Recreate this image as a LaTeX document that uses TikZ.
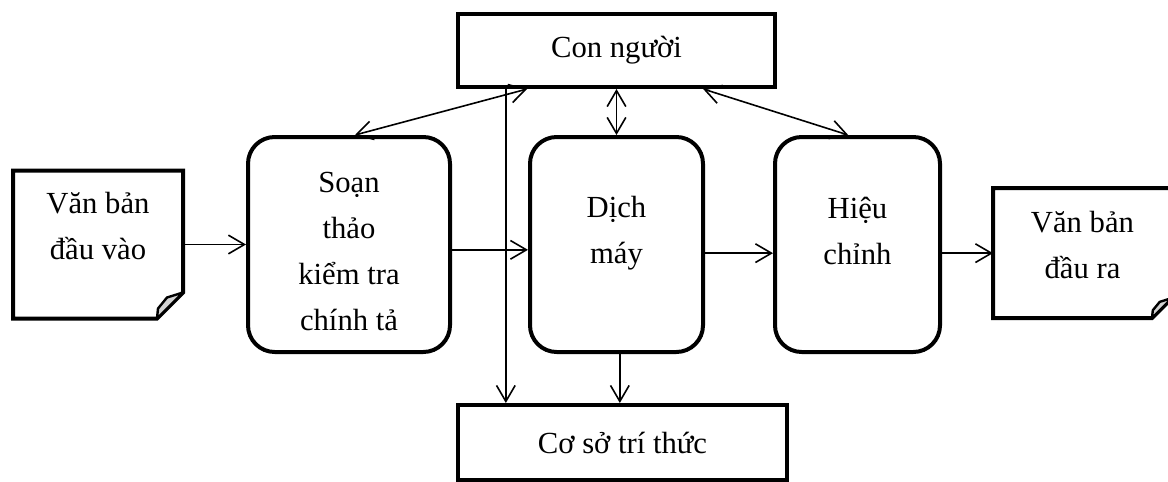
\documentclass[tikz,border=0pt]{standalone}
\usepackage{fontspec}
\setmainfont{Liberation Serif}
\usepackage{tikz}
\usetikzlibrary{positioning, arrows.meta}

\begin{document}
\begin{tikzpicture}[x=0.75pt, y=-0.75pt,
  every node/.style={font=\fontsize{23}{34.5}\selectfont, align=center},
  stage/.style={draw, line width=3pt, rounded corners=20pt, inner sep=0pt},
  store/.style={draw, line width=3pt, inner sep=0pt},
  docbox/.style={inner sep=0pt, outer sep=0pt},
  docline/.style={line width=3pt, line join=miter},
  flapline/.style={line width=1.8pt, line join=round, fill=gray!35},
  flow/.style={line width=1.2pt, -{Straight Barb[length=12pt, width=14pt]}},
  both/.style={line width=1.2pt, {Straight Barb[length=12pt, width=14pt]}-{Straight Barb[length=12pt, width=14pt]}}]

\useasboundingbox (0,0) rectangle (1168,482);

% --- Documents (input / output) ---
\node[docbox, minimum width=127.5pt, minimum height=111pt,
      label={[yshift=13.5pt]center:Văn bản\\đầu vào}] (indoc) at (98,244.5) {};
\node[docbox, minimum width=134.25pt, minimum height=97.5pt,
      label={[yshift=6pt]center:Văn bản\\đầu ra}] (outdoc) at (1082.5,253) {};

% outline with folded corner
\draw[docline] (indoc.north west) -- (indoc.north east) -- ([yshift=19.5pt]indoc.south east)
  -- ([xshift=-19.5pt]indoc.south east) -- (indoc.south west) -- cycle;
\draw[flapline] ([yshift=19.5pt]indoc.south east) -- ([shift={(-12pt,15.75pt)}]indoc.south east)
  -- ([shift={(-18.75pt,7.5pt)}]indoc.south east) -- ([xshift=-19.5pt]indoc.south east) -- cycle;
\draw[docline] (outdoc.north west) -- (outdoc.north east) -- ([yshift=15pt]outdoc.south east)
  -- ([xshift=-15pt]outdoc.south east) -- (outdoc.south west) -- cycle;
\draw[flapline] ([yshift=15pt]outdoc.south east) -- ([shift={(-9.2pt,12.1pt)}]outdoc.south east)
  -- ([shift={(-14.4pt,5.8pt)}]outdoc.south east) -- ([xshift=-15pt]outdoc.south east) -- cycle;

% --- Processing stages ---
\node[stage, minimum width=151.5pt, minimum height=161.25pt,
      label={[yshift=-5pt]center:Soạn\\thảo\\kiểm tra\\chính tả}] (soan) at (349,244.5) {};
\node[stage, minimum width=129.75pt, minimum height=161.25pt,
      label={[yshift=8.6pt]center:Dịch\\máy}] (dich) at (616.5,244.5) {};
\node[stage, minimum width=123.75pt, minimum height=161.25pt,
      label={[yshift=10.5pt]center:Hiệu\\chỉnh}] (hieu) at (857.5,244.5) {};

% --- People and knowledge base ---
\node[store, minimum width=237.75pt, minimum height=54.75pt] (conng) at (616.5,50.5) {Con người};
\node[store, minimum width=246.75pt, minimum height=56.25pt] (coso) at (622.5,442.5) {Cơ sở trí thức};

% --- Main flow ---
\draw[flow] (indoc) -- (soan);
\draw[flow] ([yshift=-4pt]soan.east) -- ([yshift=-4pt]dich.west);
\draw[flow] ([yshift=-6.5pt]dich.east) -- ([yshift=-6.5pt]hieu.west);
\draw[flow] ([yshift=-6.5pt]hieu.east) -- ([yshift=-6.5pt]hieu.east -| outdoc.west);

% --- Links with Con người ---
\draw[both] ([xshift=4.5pt]soan.north) -- ([xshift=-67pt]conng.south);
\draw[both] (conng) -- (dich);
\draw[both] ([xshift=65pt]conng.south) -- ([xshift=-7pt]hieu.north);

% --- Down to Cơ sở trí thức ---
\draw[flow] ([xshift=-83pt]conng.south) -- ([xshift=-83pt]conng.south |- coso.north);
\draw[flow] ([xshift=2.5pt]dich.south) -- ([xshift=2.5pt]dich.south |- coso.north);

\end{tikzpicture}
\end{document}
